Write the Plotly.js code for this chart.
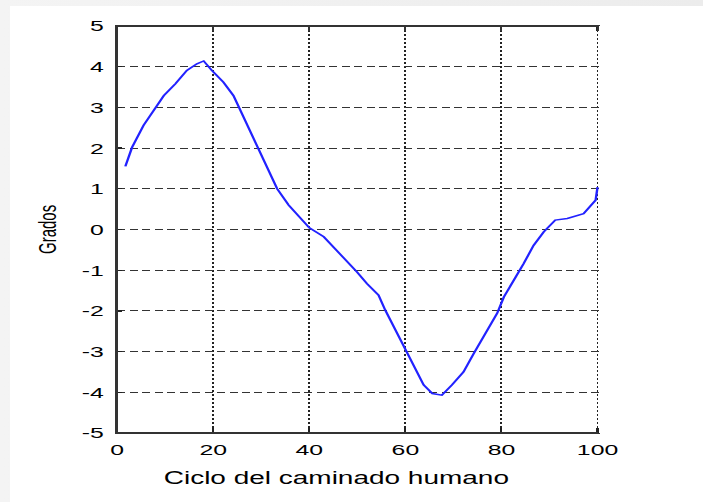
<!DOCTYPE html>
<html>
<head>
<meta charset="utf-8">
<script src="https://cdn.plot.ly/plotly-3.0.1.min.js"></script>
<style>
  html, body { margin: 0; padding: 0; width: 703px; height: 502px; overflow: hidden;
               background: linear-gradient(to right, #f4f4f4, #ececec); }
  /* the figure is laid out narrow and widened horizontally */
  #chart { position: absolute; left: 10px; top: 6px; width: 433px; height: 496px;
           background: #fff; transform: scaleX(1.6); transform-origin: 0 0; }
  .edge { position: absolute; background: #333; pointer-events: none; z-index: 20; }
</style>
</head>
<body>
<div id="chart"></div>
<script>
// Joint angle over the human gait cycle (percent of cycle vs degrees)
const cyclePct = [1.7, 3.1, 5.5, 7.9, 9.7, 12.1, 14.5, 16.6, 18.0, 19.7, 22.1, 24.2, 25.3, 27.0,
  29.1, 31.2, 33.3, 35.7, 38.8, 40.0, 43.0, 44.4, 47.1, 49.9, 52.0, 54.4, 55.8, 57.9, 60.0,
  61.7, 63.8, 65.6, 67.6, 69.7, 72.1, 74.2, 76.3, 79.1, 80.5, 82.6, 84.6, 86.7, 88.8, 91.2,
  93.7, 97.1, 99.6, 100];
const angleDeg = [1.55, 2.02, 2.56, 2.97, 3.29, 3.58, 3.91, 4.07, 4.14, 3.91, 3.62, 3.29, 3.01, 2.60,
  2.03, 1.54, 1.0, 0.6, 0.18, 0.04, -0.18, -0.35, -0.67, -1.04, -1.33, -1.61, -1.98, -2.47, -2.96,
  -3.37, -3.82, -4.03, -4.07, -3.82, -3.5, -3.05, -2.64, -2.06, -1.66, -1.25, -0.84, -0.39, -0.06, 0.23,
  0.27, 0.39, 0.72, 1.04];

const xTicks = [0, 20, 40, 60, 80, 100];
const yTicks = [-5, -4, -3, -2, -1, 0, 1, 2, 3, 4, 5];

const xLabel = 'Ciclo del caminado humano';
const yLabel = 'Grados';

const STRETCH = 1.6;         // horizontal widening of the figure
const CHART_LEFT = 10, CHART_TOP = 6;
const tickFont = { family: 'Liberation Sans, Arial, sans-serif', size: 15.5, color: '#000' };

const trace = {
  x: cyclePct,
  y: angleDeg,
  type: 'scatter',
  mode: 'lines',
  line: { color: '#2222ff', width: 1.5 },
  hoverinfo: 'x+y'
};

const layout = {
  width: 433,
  height: 496,
  margin: { l: 67, r: 64, t: 20, b: 69 },
  paper_bgcolor: '#ffffff',
  plot_bgcolor: '#ffffff',
  showlegend: false,
  xaxis: {
    range: [0, 100.6],
    tickvals: xTicks,
    ticktext: xTicks.map(String),
    ticks: 'inside',
    ticklen: 5,
    tickwidth: 1.3,
    tickcolor: '#222',
    ticklabelstandoff: 2,
    showline: true,
    linecolor: '#333',
    linewidth: 1.3,
    mirror: 'ticks',
    showgrid: true,
    gridcolor: '#222',
    gridwidth: 1.2,
    griddash: '2px,2px',
    zeroline: false,
    tickfont: tickFont,
    fixedrange: true
  },
  yaxis: {
    range: [-5, 5],
    tickvals: yTicks,
    ticktext: yTicks.map(String),
    ticks: 'inside',
    ticklen: 3,
    tickwidth: 1.3,
    tickcolor: '#222',
    ticklabelstandoff: 4,
    showline: true,
    linecolor: '#333',
    linewidth: 1.3,
    showgrid: true,
    gridcolor: '#333',
    gridwidth: 1.2,
    griddash: '5px,2.8px',
    zeroline: false,
    tickfont: tickFont,
    fixedrange: true
  },
  annotations: [
    {
      text: xLabel, xref: 'paper', yref: 'paper', x: 0.452, y: -0.111,
      xanchor: 'center', yanchor: 'middle', showarrow: false,
      font: { family: 'Liberation Sans, Arial, sans-serif', size: 17.5, color: '#000' }
    },
    {
      text: yLabel, xref: 'paper', yref: 'paper', x: -0.144, y: 0.5,
      xanchor: 'center', yanchor: 'middle', showarrow: false, textangle: -90,
      font: { family: 'Liberation Sans, Arial, sans-serif', size: 15, color: '#000' }
    }
  ]
};

function addEdge(x, y, w, h) {
  const e = document.createElement('div');
  e.className = 'edge';
  e.style.left = x + 'px';
  e.style.top = y + 'px';
  e.style.width = w + 'px';
  e.style.height = h + 'px';
  document.body.appendChild(e);
}

Plotly.newPlot('chart', [trace], layout, { displayModeBar: false, staticPlot: true }).then(gd => {
  // solid box on the top, left and bottom sides, placed from the axes' own scales
  const xa = gd._fullLayout.xaxis, ya = gd._fullLayout.yaxis;
  const px = v => CHART_LEFT + STRETCH * (xa._offset + xa.l2p(v));
  const py = v => CHART_TOP + ya._offset + ya.l2p(v);
  const left = px(xTicks[0]);
  const right = px(xTicks[xTicks.length - 1]);
  const top = py(yTicks[yTicks.length - 1]);
  const bottom = py(yTicks[0]);
  const hw = 1.5, vw = 2;
  addEdge(left - vw / 2, top - hw / 2, right - left + vw / 2, hw);       // top
  addEdge(left - vw / 2, bottom - hw / 2, right - left + vw / 2, hw);    // bottom
  addEdge(left - vw / 2, top - hw / 2, vw, bottom - top + hw);           // left
  // short inward ticks along the top edge
  xTicks.forEach(v => addEdge(px(v) - 1, top, 2, 5));
});
</script>
</body>
</html>
